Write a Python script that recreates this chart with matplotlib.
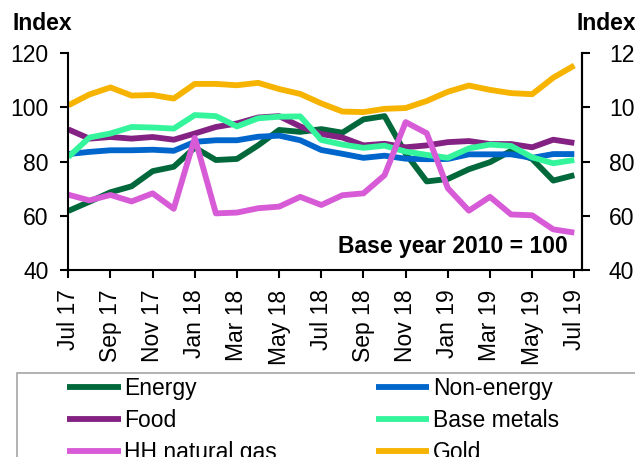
import matplotlib
matplotlib.use("Agg")
import matplotlib.pyplot as plt
from matplotlib.patches import Rectangle

plt.rcParams['font.family'] = ['Liberation Sans', 'DejaVu Sans']

# ---- data ----
months = ["Jul 17", "Aug 17", "Sep 17", "Oct 17", "Nov 17", "Dec 17", "Jan 18", "Feb 18",
          "Mar 18", "Apr 18", "May 18", "Jun 18", "Jul 18", "Aug 18", "Sep 18", "Oct 18",
          "Nov 18", "Dec 18", "Jan 19", "Feb 19", "Mar 19", "Apr 19", "May 19", "Jun 19", "Jul 19"]
energy = [61.8, 65.2, 68.7, 70.9, 76.5, 78.1, 85.2, 80.6, 81.0, 86.0, 91.7, 91.0, 92.0,
          90.7, 95.6, 96.8, 83.0, 72.7, 73.6, 77.2, 79.8, 84.0, 81.0, 73.0, 75.0]
non_energy = [82.8, 83.6, 84.2, 84.2, 84.4, 84.0, 87.3, 87.9, 87.9, 89.2, 89.6, 87.9, 84.3,
              82.9, 81.4, 82.2, 81.1, 80.9, 81.0, 82.7, 82.7, 82.7, 81.4, 82.8, 82.8]
food = [91.9, 88.5, 89.1, 88.5, 89.1, 88.1, 90.4, 92.8, 94.1, 96.3, 96.8, 93.0, 90.2,
        88.9, 86.0, 86.6, 85.3, 86.0, 87.2, 87.6, 86.5, 86.5, 85.3, 88.1, 86.9]
base_metals = [81.7, 88.9, 90.4, 92.8, 92.6, 92.2, 97.2, 96.8, 93.0, 96.0, 96.6, 96.7, 88.0,
               86.3, 85.1, 85.9, 83.7, 82.5, 81.4, 84.9, 86.3, 85.8, 81.6, 79.4, 80.6]
hh_gas = [67.8, 65.7, 67.7, 65.3, 68.3, 62.6, 88.8, 60.9, 61.2, 62.8, 63.4, 67.0, 64.0,
          67.6, 68.3, 75.0, 94.6, 90.5, 70.2, 61.9, 67.0, 60.5, 60.2, 55.0, 53.8]
gold = [100.8, 104.8, 107.4, 104.4, 104.6, 103.3, 108.7, 108.7, 108.2, 109.1, 106.8, 105.0, 101.5,
        98.5, 98.3, 99.5, 99.8, 102.4, 105.8, 108.1, 106.5, 105.3, 104.9, 111.0, 115.5]

series_names = ["Energy", "Non-energy", "Food", "Base metals", "HH natural gas", "Gold"]
series_values = [energy, non_energy, food, base_metals, hh_gas, gold]
series_colors = ["#00683A", "#0066CC", "#832283", "#35F59C", "#D75BD6", "#F6B300"]

y_ticks = [40, 60, 80, 100, 120]

# ---- figure ----
W, H = 635, 457
fig = plt.figure(figsize=(W / 100, H / 100), dpi=100)

def fx(px):
    return px / W

def fy(py):
    return 1 - py / H

left, right, top, bottom = 68.3, 581.7, 53.3, 270.0
ax = fig.add_axes([fx(left), fy(bottom), fx(right) - fx(left), fy(top) - fy(bottom)])

x = list(range(len(months)))
handles = {}
for name, vals, col in zip(series_names, series_values, series_colors):
    ln, = ax.plot(x, vals, color=col, lw=4.2, solid_joinstyle='round',
                  solid_capstyle='butt', label=name)
    handles[name] = ln

FS = 16.5
ax.set_xlim(0, 24.35)
ax.set_ylim(40, 120)
ax.set_yticks(y_ticks)
ax.set_xticks(x[::2])
ax.set_xticklabels(months[::2], rotation=90, fontsize=FS)
ax.tick_params(axis='x', direction='out', length=6, width=1.5, pad=8)
ax.tick_params(axis='y', direction='out', length=6, width=1.5, pad=8, labelsize=FS)
ax.spines['top'].set_visible(False)
for s in ['left', 'bottom', 'right']:
    ax.spines[s].set_linewidth(1.5)
    ax.spines[s].set_color('black')

ax2 = ax.twinx()
ax2.set_ylim(40, 120)
ax2.set_yticks(y_ticks)
ax2.tick_params(axis='y', direction='out', length=6, width=1.5, pad=13.5, labelsize=FS)
ax2.spines['top'].set_visible(False)
ax2.spines['right'].set_linewidth(1.5)
ax2.spines['left'].set_visible(False)
ax2.spines['bottom'].set_visible(False)

fig.text(fx(12), fy(23), "Index", fontsize=FS, fontweight='bold', ha='left', va='center')
fig.text(fx(577), fy(23), "Index", fontsize=FS, fontweight='bold', ha='left', va='center')
fig.text(fx(568), fy(253), "Base year 2010 = 100", fontsize=FS, fontweight='bold',
         ha='right', va='baseline')

# legend frame (cut by figure edges)
fig.patches.append(Rectangle((fx(17), fy(470)), fx(660) - fx(17), fy(373) - fy(470),
                             transform=fig.transFigure, fill=False,
                             edgecolor='#A6A6A6', lw=1.2))

order = ["Energy", "Food", "HH natural gas", "Non-energy", "Base metals", "Gold"]
leg = fig.legend([handles[n] for n in order], order, ncol=2, loc='upper left',
                 bbox_to_anchor=(fx(67), fy(377)), frameon=False, fontsize=FS,
                 handlelength=2.35, handletextpad=0.15, columnspacing=4.3,
                 labelspacing=0.4, borderpad=0, borderaxespad=0)
for l in leg.get_lines():
    l.set_linewidth(4.2)

fig.savefig("out.png", dpi=100)
